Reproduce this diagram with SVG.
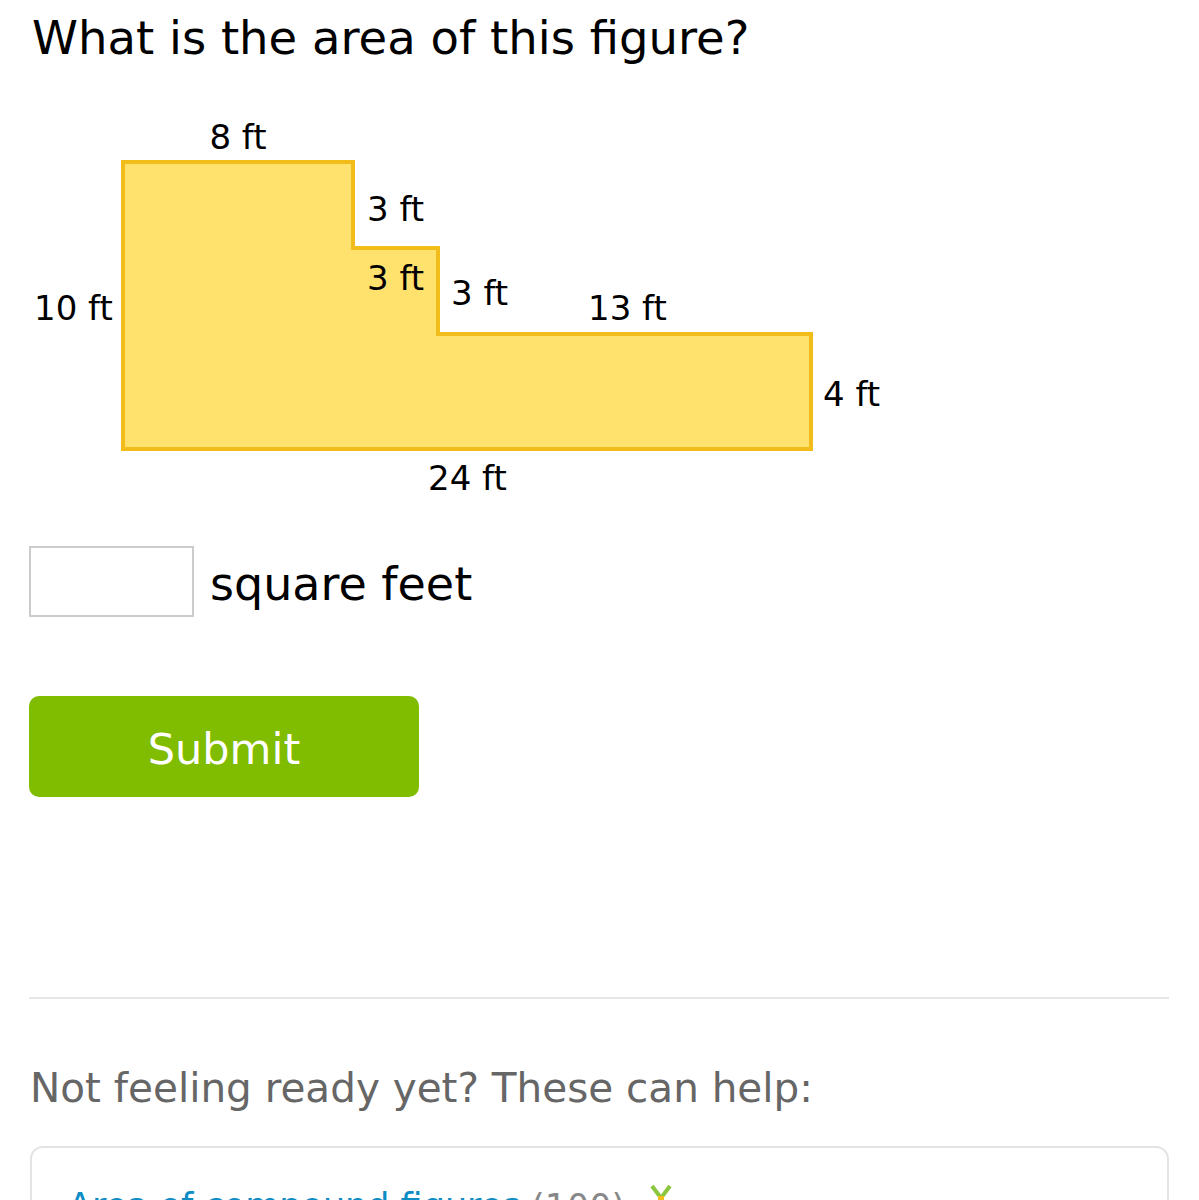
<svg xmlns="http://www.w3.org/2000/svg" width="1199" height="1200" viewBox="0 0 1199 1200">
<style>
text { font-family: "DejaVu Sans", Verdana, sans-serif; }
.lbl { font-size: 34px; fill: #000; }
</style>
<rect x="0" y="0" width="1199" height="1200" fill="#ffffff"/>
<text x="32" y="54" font-size="46.5" fill="#000">What is the area of this figure?</text>
<g id="figure">
<polygon points="123,162 353,162 353,248 438,248 438,334 811,334 811,449 123,449" fill="#fee26d" stroke="#f2bd1a" stroke-width="4" stroke-linejoin="miter"/>
</g>
<g id="labels">
<text class="lbl" x="238" y="149" text-anchor="middle">8 ft</text>
<text class="lbl" x="34" y="320">10 ft</text>
<text class="lbl" x="367" y="221">3 ft</text>
<text class="lbl" x="367" y="290">3 ft</text>
<text class="lbl" x="451" y="305">3 ft</text>
<text class="lbl" x="588" y="320">13 ft</text>
<text class="lbl" x="823" y="406">4 ft</text>
<text class="lbl" x="428" y="490">24 ft</text>
</g>
<g id="answer">
<rect x="30" y="547" width="163" height="69" fill="#fff" stroke="#cccccc" stroke-width="2"/>
<text x="210" y="600" font-size="46" fill="#000">square feet</text>
</g>
<g id="submit">
<rect x="29" y="696" width="390" height="101" rx="10" fill="#80bc00"/>
<text x="224" y="764" font-size="43" fill="#fff" text-anchor="middle">Submit</text>
</g>
<line x1="29" y1="998" x2="1169" y2="998" stroke="#e6e6e6" stroke-width="2"/>
<text x="30" y="1102" font-size="40.5" fill="#666666">Not feeling ready yet? These can help:</text>
<g id="card">
<rect x="31" y="1147" width="1137" height="120" rx="12" fill="#fff" stroke="#e3e3e3" stroke-width="2"/>
<text x="68" y="1218" font-size="35" fill="#0e8cc4">Area of compound figures</text>
<text x="531" y="1219" font-size="35" fill="#888888">(100)</text>
<path d="M652,1186 L661,1198 L670,1186" fill="none" stroke="#8cc63f" stroke-width="4"/>
<rect x="658" y="1196" width="6" height="4" fill="#f2bd1a"/>
</g>
</svg>
